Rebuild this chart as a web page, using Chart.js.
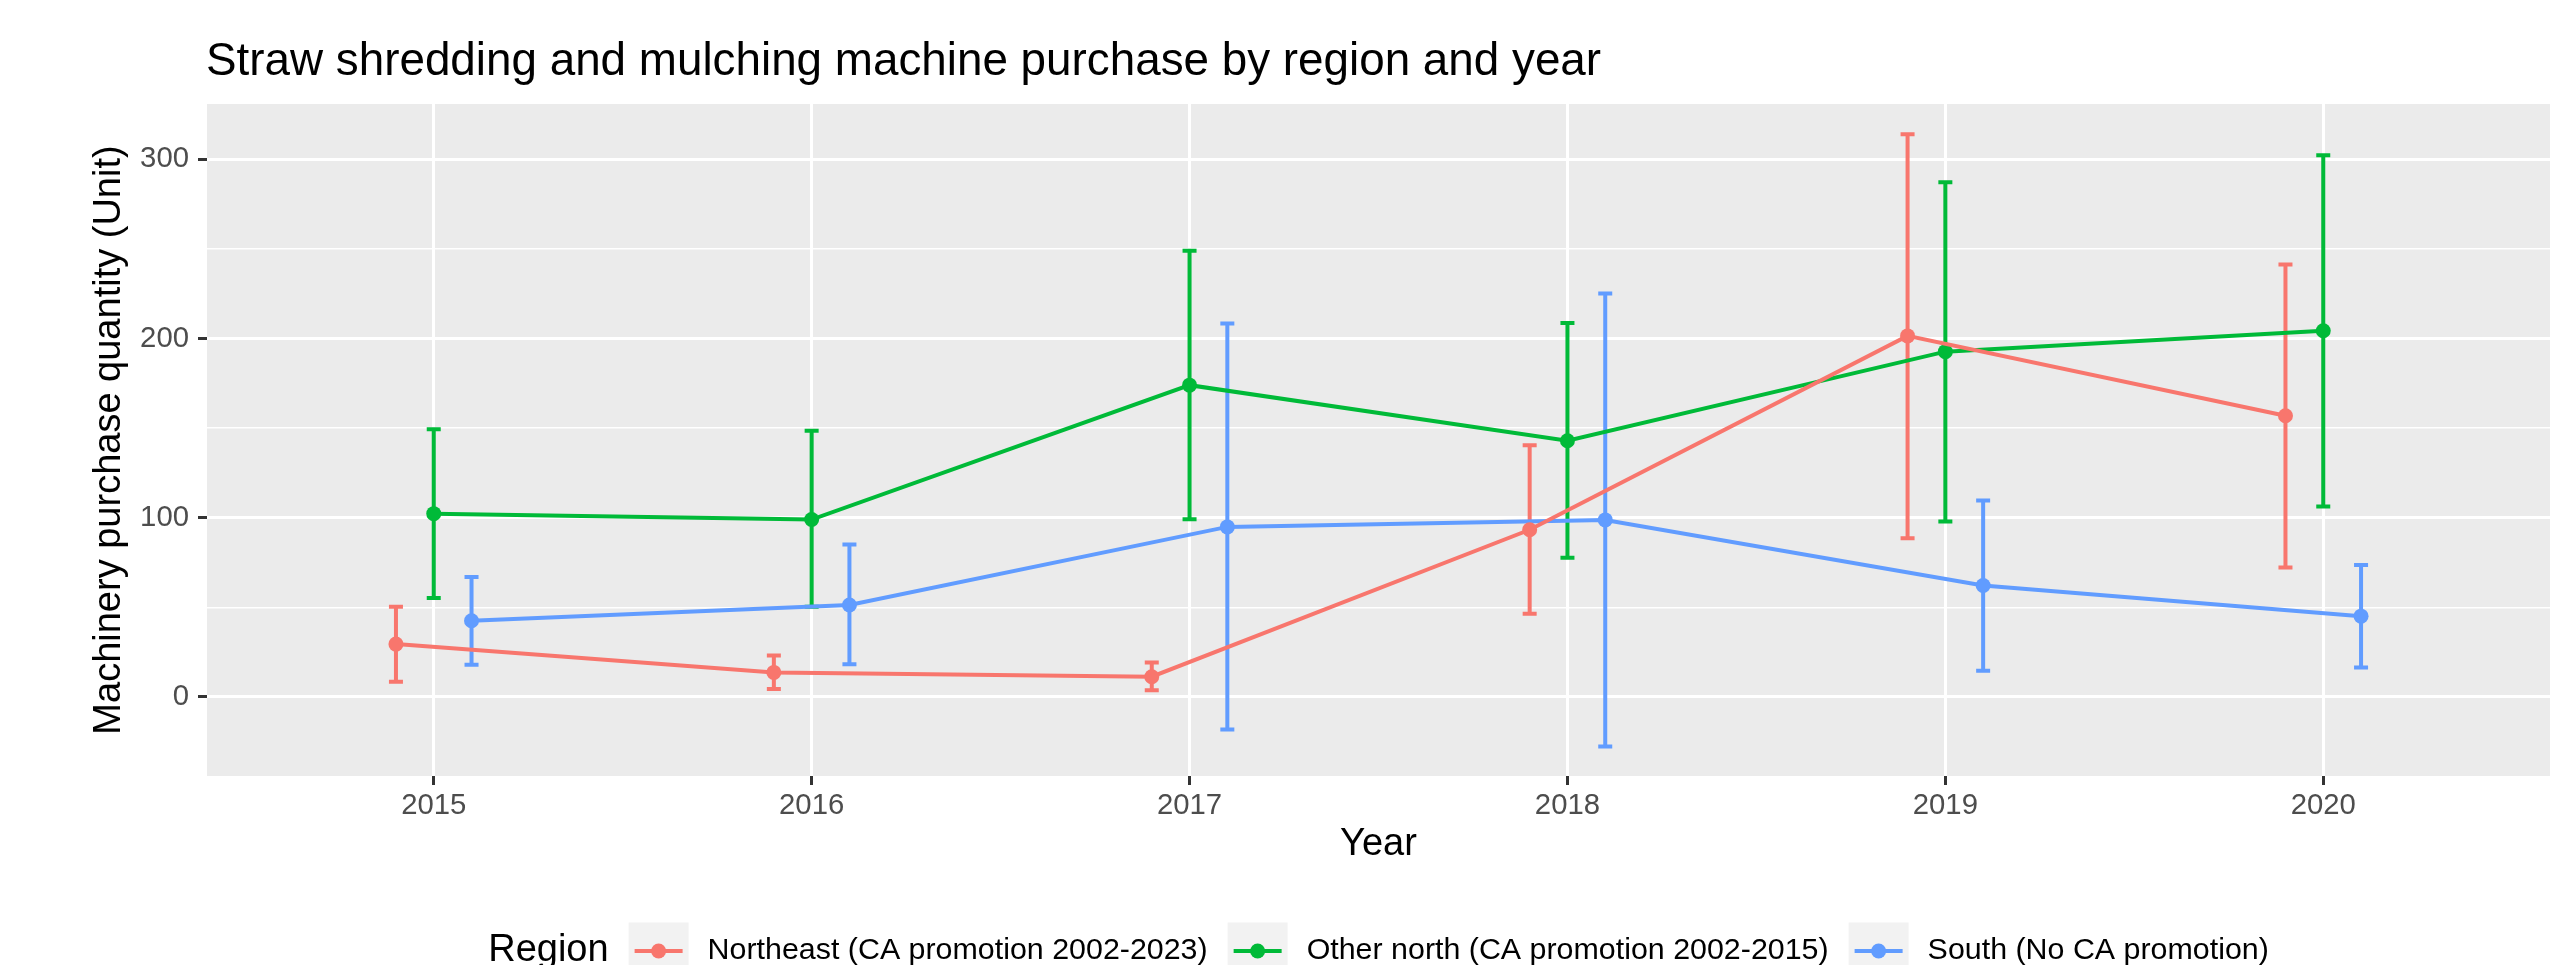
<!DOCTYPE html>
<html>
<head>
<meta charset="utf-8">
<title>Straw shredding and mulching machine purchase</title>
<script src="https://cdn.jsdelivr.net/npm/chart.js@4.4.1/dist/chart.umd.min.js"></script>
<style>
  html, body { margin: 0; padding: 0; background: #fff; }
  #chart { display: block; }
</style>
</head>
<body>
<canvas id="chart" width="2567" height="965"></canvas>
<script>
// Purchases per year, mean with lower / upper interval
const years = [2015, 2016, 2017, 2018, 2019, 2020];

const regionNames = [
    'Northeast (CA promotion 2002-2023)',
    'Other north (CA promotion 2002-2015)',
    'South (No CA promotion)'
];
const regionColors = ['#F8766D', '#00BA38', '#619CFF'];
const regionDodge = [-0.1, 0, 0.1];

const northeast = [29.5, 13.7, 11.3, 93.3, 201.5, 156.9];
const northeastLow = [8.5, 4.4, 3.8, 46.4, 88.6, 72.2];
const northeastHigh = [50.3, 23.2, 19.3, 140.5, 314.0, 241.3];

const otherNorth = [102.3, 99.0, 174.0, 143.0, 192.7, 204.4];
const otherNorthLow = [55.3, 50.3, 99.2, 77.7, 97.9, 106.3];
const otherNorthHigh = [149.4, 148.6, 249.0, 208.7, 287.3, 302.3];

const south = [42.5, 51.3, 94.9, 98.8, 62.2, 45.1];
const southLow = [18.0, 18.3, -18.1, -27.7, 14.7, 16.5];
const southHigh = [67.0, 85.1, 208.4, 225.1, 109.6, 73.7];

const yTickValues = [0, 100, 200, 300];
const yMinorValues = [50, 150, 250];
const xTickValues = years;

const seriesMeans = [northeast, otherNorth, south];
const seriesLows = [northeastLow, otherNorthLow, southLow];
const seriesHighs = [northeastHigh, otherNorthHigh, southHigh];

const FONT = '"Liberation Sans", Arial, Helvetica, sans-serif';
Chart.defaults.font.family = FONT;

const TITLE = 'Straw shredding and mulching machine purchase by region and year';

function isMajorY(v) {
    return yTickValues.includes(v);
}

// grey panel behind the grid
const panelBackground = {
    id: 'panelBackground',
    beforeDraw(chart) {
        const { ctx, chartArea: a } = chart;
        ctx.save();
        ctx.fillStyle = '#EBEBEB';
        ctx.fillRect(a.left, a.top, a.right - a.left, a.bottom - a.top);
        ctx.restore();
    }
};

// vertical interval bars with small caps
const errorBars = {
    id: 'errorBars',
    beforeDatasetsDraw(chart) {
        const { ctx, scales: { x, y } } = chart;
        ctx.save();
        ctx.lineWidth = 4;
        ctx.lineCap = 'butt';
        seriesMeans.forEach((_, s) => {
            ctx.strokeStyle = regionColors[s];
            years.forEach((yr, i) => {
                const px = x.getPixelForValue(yr + regionDodge[s]);
                const lo = y.getPixelForValue(seriesLows[s][i]);
                const hi = y.getPixelForValue(seriesHighs[s][i]);
                const half = 7;
                ctx.beginPath();
                ctx.moveTo(px, lo);
                ctx.lineTo(px, hi);
                ctx.moveTo(px - half, lo);
                ctx.lineTo(px + half, lo);
                ctx.moveTo(px - half, hi);
                ctx.lineTo(px + half, hi);
                ctx.stroke();
            });
        });
        ctx.restore();
    }
};

// plot title plus the bottom legend with grey key boxes
const titleAndLegend = {
    id: 'titleAndLegend',
    afterDraw(chart) {
        const { ctx, chartArea: a } = chart;
        ctx.save();

        ctx.fillStyle = '#000000';
        ctx.font = '45.8px ' + FONT;
        ctx.textAlign = 'left';
        ctx.textBaseline = 'alphabetic';
        ctx.fillText(TITLE, 206, 75);

        const legendY = 951;
        const keyW = 60, keyH = 57;
        const titleFont = '38px ' + FONT;
        const labelFont = '30.4px ' + FONT;

        ctx.font = titleFont;
        const titleW = ctx.measureText('Region').width;
        ctx.font = labelFont;
        const labelW = regionNames.map(n => ctx.measureText(n).width);

        let total = titleW;
        labelW.forEach(w => { total += 20 + keyW + 19 + w; });
        let cx = (a.left + a.right) / 2 - total / 2;

        ctx.textBaseline = 'middle';
        ctx.font = titleFont;
        ctx.fillText('Region', cx, legendY);
        cx += titleW;

        regionNames.forEach((name, i) => {
            cx += 20;
            ctx.fillStyle = '#F2F2F2';
            ctx.fillRect(cx, legendY - keyH / 2, keyW, keyH);
            ctx.strokeStyle = regionColors[i];
            ctx.lineWidth = 4;
            ctx.beginPath();
            ctx.moveTo(cx + 6, legendY);
            ctx.lineTo(cx + keyW - 6, legendY);
            ctx.stroke();
            ctx.fillStyle = regionColors[i];
            ctx.beginPath();
            ctx.arc(cx + keyW / 2, legendY, 7.5, 0, Math.PI * 2);
            ctx.fill();
            cx += keyW + 19;
            ctx.fillStyle = '#000000';
            ctx.font = labelFont;
            ctx.fillText(name, cx, legendY);
            cx += labelW[i];
        });

        ctx.restore();
    }
};

const datasets = seriesMeans.map((values, s) => ({
    label: regionNames[s],
    data: years.map((yr, i) => ({ x: yr + regionDodge[s], y: values[i] })),
    showLine: true,
    borderColor: regionColors[s],
    backgroundColor: regionColors[s],
    borderWidth: 4,
    pointRadius: 7.5,
    pointBorderWidth: 0,
    pointBackgroundColor: regionColors[s]
}));

const ctx = document.getElementById('chart').getContext('2d');
new Chart(ctx, {
    type: 'scatter',
    data: { datasets },
    plugins: [panelBackground, errorBars, titleAndLegend],
    options: {
        responsive: false,
        animation: false,
        devicePixelRatio: 1,
        layout: { padding: { top: 104, right: 17, bottom: 0, left: 0 } },
        plugins: {
            legend: { display: false },
            title: { display: false },
            tooltip: { enabled: false }
        },
        scales: {
            x: {
                type: 'linear',
                min: 2014.4,
                max: 2020.6,
                afterBuildTicks: s => { s.ticks = xTickValues.map(v => ({ value: v })); },
                afterFit: s => { s.height = 189; },
                border: { display: false },
                grid: {
                    color: '#FFFFFF',
                    lineWidth: 3,
                    tickColor: '#333333',
                    tickLength: 9,
                    tickWidth: 3
                },
                ticks: {
                    callback: v => String(v),
                    color: '#4D4D4D',
                    font: { size: 29.3, lineHeight: 1.2 },
                    padding: 3,
                    maxRotation: 0
                },
                title: {
                    display: true,
                    text: 'Year',
                    color: '#000000',
                    font: { size: 38, lineHeight: 1.2 },
                    padding: { top: 0, bottom: 97.7 }
                }
            },
            y: {
                type: 'linear',
                min: -44.1,
                max: 330.9,
                afterBuildTicks: s => {
                    s.ticks = yTickValues.concat(yMinorValues).sort((p, q) => p - q).map(v => ({ value: v }));
                },
                afterFit: s => { s.width = 207; },
                border: { display: false },
                grid: {
                    color: '#FFFFFF',
                    lineWidth: c => isMajorY(c.tick.value) ? 3 : 1.6,
                    tickColor: c => isMajorY(c.tick.value) ? '#333333' : 'rgba(0,0,0,0)',
                    tickLength: 9,
                    tickWidth: 3
                },
                ticks: {
                    callback: v => isMajorY(v) ? String(v) : '',
                    color: '#4D4D4D',
                    font: { size: 29.3 },
                    padding: 9
                },
                title: {
                    display: true,
                    text: 'Machinery purchase quantity (Unit)',
                    color: '#000000',
                    font: { size: 38, lineHeight: 1.2 },
                    padding: { top: 87, bottom: 0 }
                }
            }
        }
    }
});
</script>
</body>
</html>
